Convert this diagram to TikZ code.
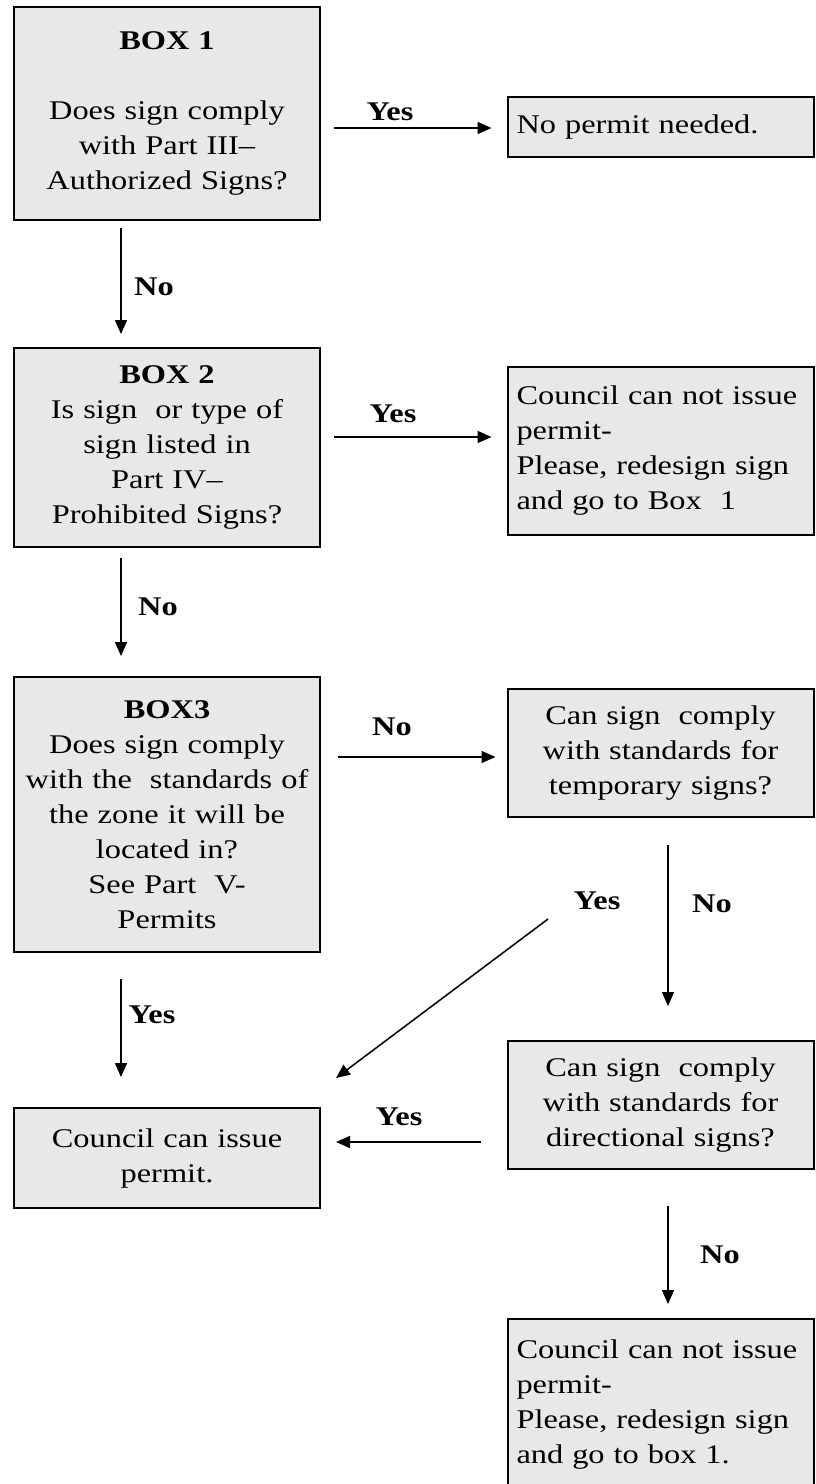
\documentclass[tikz,border=0pt]{standalone}
\usepackage{fontspec}
\setmainfont{Liberation Serif}[FakeStretch=1.2]
\usetikzlibrary{arrows.meta}

\definecolor{boxgray}{RGB}{232,232,232}
\newcommand{\flowfont}{\fontsize{13.5pt}{17.5pt}\selectfont}

\tikzset{
	flowbox/.style={draw, fill=boxgray, line width=1pt, minimum width=153pt, text width=144pt,
		inner xsep=4.5pt, inner ysep=0pt, align=center, font=\flowfont},
	leftbox/.style={flowbox, align=left},
	answer/.style={font=\flowfont\bfseries, inner sep=0pt},
	flowarrow/.style={line width=0.75pt, -{Triangle[length=7pt,width=6pt]}},
}

\begin{document}
\begin{tikzpicture}[x=0.5pt,y=0.5pt,yscale=-1,xscale=1]
				\useasboundingbox (0,0) rectangle (815,1484);
				\fill[white] (0,0) rectangle (815,1484);

				%Shape: Rectangle [box1]
				\node[flowbox, minimum height=106.5pt] (box1) at (167,113.5) {\textbf{BOX 1}\\[17.5pt]Does sign comply\\with Part III–\\Authorized Signs?};
				%Shape: Rectangle [nopermit]
				\node[leftbox, minimum height=30pt] (nopermit) at (660.5,127) {No permit needed.};
				%Shape: Rectangle [box2]
				\node[flowbox, minimum height=99.5pt] (box2) at (167,447.5) {\textbf{BOX 2}\\Is sign\ \ or type of\\sign listed in\\Part IV–\\Prohibited Signs?};
				%Shape: Rectangle [redesign1]
				\node[leftbox, minimum height=84pt] (redesign1) at (660.5,451) {Council can not issue\\permit-\\Please, redesign sign\\and go to Box\ \ 1};
				%Shape: Rectangle [box3]
				\node[flowbox, minimum height=137.5pt] (box3) at (167,814.5) {\textbf{BOX3}\\Does sign comply\\with the\ \ standards of\\the zone it will be\\located in?\\See Part\ \ V-\\Permits};
				%Shape: Rectangle [temporary]
				\node[flowbox, minimum height=64pt] (temporary) at (660.5,753) {Can sign\ \ comply\\with standards for\\temporary signs?};
				%Shape: Rectangle [issue]
				\node[flowbox, minimum height=50pt] (issue) at (167,1158) {Council can issue\\permit.};
				%Shape: Rectangle [directional]
				\node[flowbox, minimum height=64pt] (directional) at (660.5,1105) {Can sign\ \ comply\\with standards for\\directional signs?};
				%Shape: Rectangle [redesign2]
				\node[leftbox, minimum height=85.5pt] (redesign2) at (660.5,1404.5) {Council can not issue\\permit-\\Please, redesign sign\\and go to box 1.};

				%Straight Lines [box1 -> nopermit]
				\draw[flowarrow, shorten <=6.5pt, shorten >=7.5pt] ([yshift=7.25pt]box1.east) -- ([yshift=0.5pt]nopermit.west);
				%Straight Lines [box1 -> box2]
				\draw[flowarrow, shorten <=3.5pt, shorten >=6.5pt] ([xshift=-23pt]box1.south) -- ([xshift=-23pt]box2.north);
				%Straight Lines [box2 -> redesign1]
				\draw[flowarrow, shorten <=6.5pt, shorten >=7.5pt] ([yshift=-5.25pt]box2.east) -- ([yshift=-7pt]redesign1.west);
				%Straight Lines [box2 -> box3]
				\draw[flowarrow, shorten <=5pt, shorten >=10pt] ([xshift=-23pt]box2.south) -- ([xshift=-23pt]box3.north);
				%Straight Lines [box3 -> temporary]
				\draw[flowarrow, shorten <=8.5pt, shorten >=5.5pt] ([yshift=-28.75pt]box3.east) -- ([yshift=2pt]temporary.west);
				%Straight Lines [box3 -> issue]
				\draw[flowarrow, shorten <=13pt, shorten >=15pt] ([xshift=-23pt]box3.south) -- ([xshift=-23pt]issue.north);
				%Straight Lines [temporary -> directional]
				\draw[flowarrow, shorten <=13.5pt, shorten >=17pt] ([xshift=3.75pt]temporary.south) -- ([xshift=3.75pt]directional.north);
				%Straight Lines [temporary yes -> issue]
				\coordinate (yesstart) at (548,919);
				\draw[flowarrow] (yesstart) -- ([xshift=7.5pt,yshift=-14.5pt]issue.north east);
				%Straight Lines [directional -> issue]
				\draw[flowarrow, shorten <=13pt, shorten >=7.5pt] ([yshift=18.5pt]directional.west) -- ([yshift=-8pt]issue.east);
				%Straight Lines [directional -> redesign2]
				\draw[flowarrow, shorten <=18pt, shorten >=7pt] ([xshift=3.75pt]directional.south) -- ([xshift=3.75pt]redesign2.north);

				% Text Node
				\node[answer] (yes1) at (390,112) {Yes};
				% Text Node
				\node[answer] (no1) at (154,287) {No};
				% Text Node
				\node[answer] (yes2) at (393,414) {Yes};
				% Text Node
				\node[answer] (no2) at (158,607) {No};
				% Text Node
				\node[answer] (no3) at (392,727) {No};
				% Text Node
				\node[answer] (yes3) at (152,1015) {Yes};
				% Text Node
				\node[answer] (yes4) at (597,901) {Yes};
				% Text Node
				\node[answer] (no4) at (712,904) {No};
				% Text Node
				\node[answer] (yes5) at (399,1117) {Yes};
				% Text Node
				\node[answer] (no5) at (720,1255) {No};

\end{tikzpicture}
\end{document}
